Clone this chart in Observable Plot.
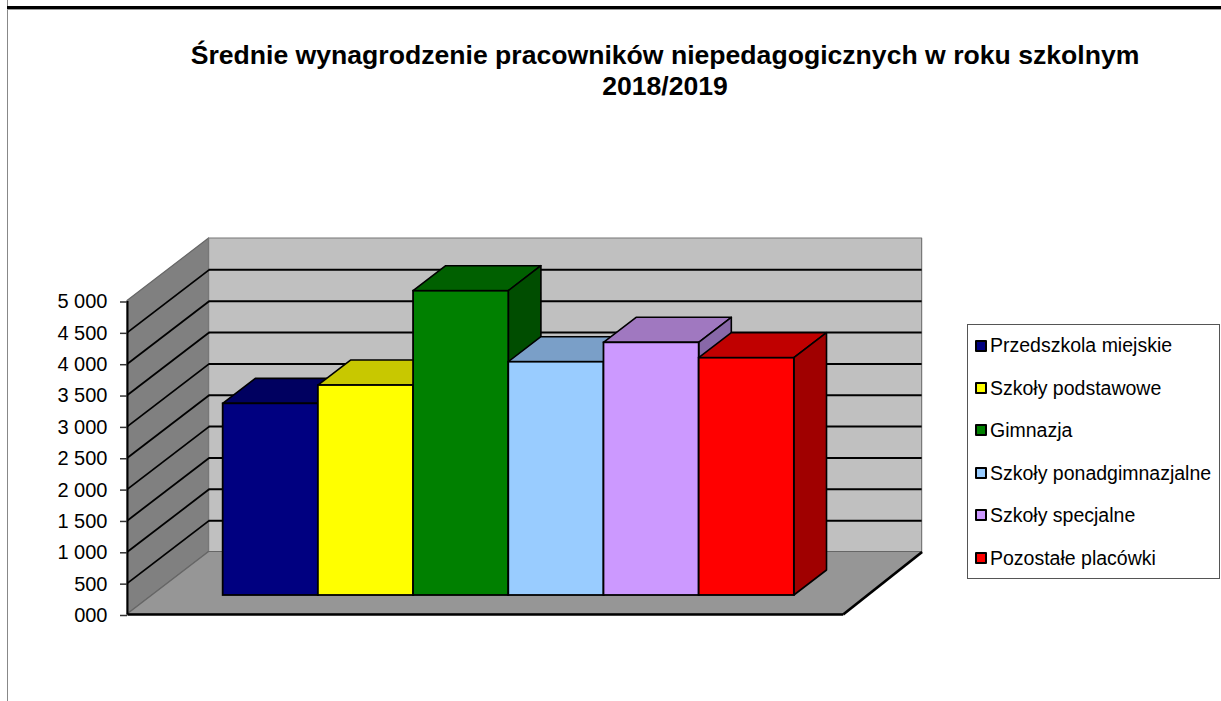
<!DOCTYPE html>
<html lang="pl"><head><meta charset="utf-8">
<script src="https://cdn.jsdelivr.net/npm/d3@7"></script>
<script src="https://cdn.jsdelivr.net/npm/@observablehq/plot@0.6"></script>
<style>
html,body{margin:0;padding:0;background:#fff;overflow:hidden}
#page{position:relative;width:1221px;height:701px;font-family:"Liberation Sans",Arial,sans-serif;color:#000}
#page svg{position:absolute;left:0;top:0;background:transparent}
#rule{position:absolute;left:7px;right:0;top:6px;height:3px;background:#000;border-bottom:1px solid #999}
#edge{position:absolute;left:7px;top:0;bottom:0;width:1px;background:#888}
#title{position:absolute;left:130px;width:1070px;top:40px;text-align:center;font-weight:700;font-size:26.6px;line-height:30.5px;white-space:nowrap}
#legend{position:absolute;left:967px;top:324px;width:253px;height:255px;border:1px solid #555;box-sizing:border-box;background:#fff}
.it{position:absolute;left:7px;height:20px;display:flex;align-items:center;font-size:19.5px;white-space:nowrap}
.sw{width:8px;height:8px;border:2px solid #000;margin-right:3px;flex:none;border-radius:1px}
</style></head><body>
<div id="page"><div id="edge"></div><div id="rule"></div>
<div id="title">Średnie wynagrodzenie pracowników niepedagogicznych w roku szkolnym<br>2018/2019</div>
<div id="chart"></div><div id="legend"></div></div>
<script>
const categories = ["Przedszkola miejskie","Szkoły podstawowe","Gimnazja","Szkoły ponadgimnazjalne","Szkoły specjalne","Pozostałe placówki"];
const values = [3057,3349,4853,3721,4030,3785];
const frontColors = ["#000080","#ffff00","#008000","#99ccff","#cc99ff","#ff0000"];
const topColors = ["#000060","#c8c800","#006000","#7a9fc8","#a078c0","#c00000"];
const sideColors = ["#00004d","#a0a000","#004d00","#6080a0","#8868a8","#a00000"];
const yTicks = d3.range(0,5001,500);

// projection of the 3D scene in scale units: depth d in 0..1
const depthX = 81.6/95.2, depthY = 62.5/31.35*500;
const floorW = 7.518, wallW = 7.49, barStart = 0.7445, d0 = 0.304, d1 = 0.704;
const px = (u,d)=>u+d*depthX, py=(v,d)=>v+d*depthY;

const face = (pts,fill,stroke,sw)=>Plot.areaY(pts,{x:"x",y1:"y1",y2:"y2",fill,stroke,strokeWidth:sw,curve:"linear"});
const flat = (pts,fill,stroke,sw)=>Plot.areaX(pts,{y:"y",x1:"x1",x2:"x2",fill,stroke,strokeWidth:sw,curve:"linear"});

const grid = yTicks.filter(v=>v>0&&v<5000);
const barMarks = categories.flatMap((c,i)=>{
  const u0=barStart+i, u1=u0+1, v=values[i];
  return [
    flat([{y:py(v,d0),x1:px(u0,d0),x2:px(u1,d0)},{y:py(v,d1),x1:px(u0,d1),x2:px(u1,d1)}],topColors[i],"#000",1.6),
    face([{x:px(u1,d0),y1:py(0,d0),y2:py(v,d0)},{x:px(u1,d1),y1:py(0,d1),y2:py(v,d1)}],sideColors[i],"#000",1.6),
    Plot.rectY([{c}],{x1:()=>px(u0,d0),x2:()=>px(u1,d0),y1:()=>py(0,d0),y2:()=>py(v,d0),fill:frontColors[i],stroke:"#000",strokeWidth:1.8,inset:0})
  ];
});

const chart = Plot.plot({
  width:1221,height:701,marginLeft:127,marginRight:0,marginTop:0,marginBottom:0,
  style:{background:"transparent",fontFamily:"'Liberation Sans',Arial,sans-serif",overflow:"visible"},
  x:{type:"linear",domain:[0,floorW],range:[127,842.7],axis:null},
  y:{type:"linear",domain:[0,5000],range:[614,300.5],axis:null},
  marks:[
    face([{x:px(0,0),y1:py(0,0),y2:py(5000,0)},{x:px(0,1),y1:py(0,1),y2:py(5000,1)}],"#808080","#666",1.2),
    flat([{y:py(0,1),x1:px(0,1),x2:px(wallW,1)},{y:py(5000,1),x1:px(0,1),x2:px(wallW,1)}],"#c0c0c0","#777",1.2),
    flat([{y:py(0,0),x1:px(0,0),x2:px(floorW,0)},{y:py(0,1),x1:px(0,1),x2:px(wallW,1)}],"#969696","#666",1.2),
    Plot.ruleY(grid,{y:v=>py(v,1),x1:px(0,1),x2:px(wallW,1),stroke:"#000",strokeWidth:2}),
    Plot.link(grid,{x1:px(0,0),y1:v=>py(v,0),x2:px(0,1),y2:v=>py(v,1),stroke:"#000",strokeWidth:1.8}),
    Plot.link([0],{x1:px(0,0),y1:py(0,0),x2:px(floorW,0),y2:py(0,0),stroke:"#000",strokeWidth:2.6}),
    Plot.link([0],{x1:px(floorW,0),y1:py(0,0),x2:px(wallW,1),y2:py(0,1),stroke:"#000",strokeWidth:2.6}),
    Plot.link([0],{x1:px(0,0),y1:py(0,0),x2:px(0,0),y2:py(5000,0),stroke:"#000",strokeWidth:2}),
    ...barMarks,
    Plot.axisY({ticks:yTicks,tickSize:7,tickPadding:13,stroke:"#333",strokeWidth:1.5,fontSize:20,fill:"#000",label:null,dy:1,
      tickFormat:v=>(v>=1000?Math.floor(v/1000)+" ":"")+String(v%1000).padStart(3,"0")})
  ]
});
document.getElementById("chart").appendChild(chart);

const legendTops=[345.5,388,430,473,515,558];
const legend=document.getElementById("legend");
categories.forEach((c,i)=>{
  const d=document.createElement("div");d.className="it";d.style.top=(legendTops[i]-325-10)+"px";
  const s=document.createElement("span");s.className="sw";s.style.background=frontColors[i];
  d.appendChild(s);d.appendChild(document.createTextNode(c));legend.appendChild(d);
});
</script></body></html>
